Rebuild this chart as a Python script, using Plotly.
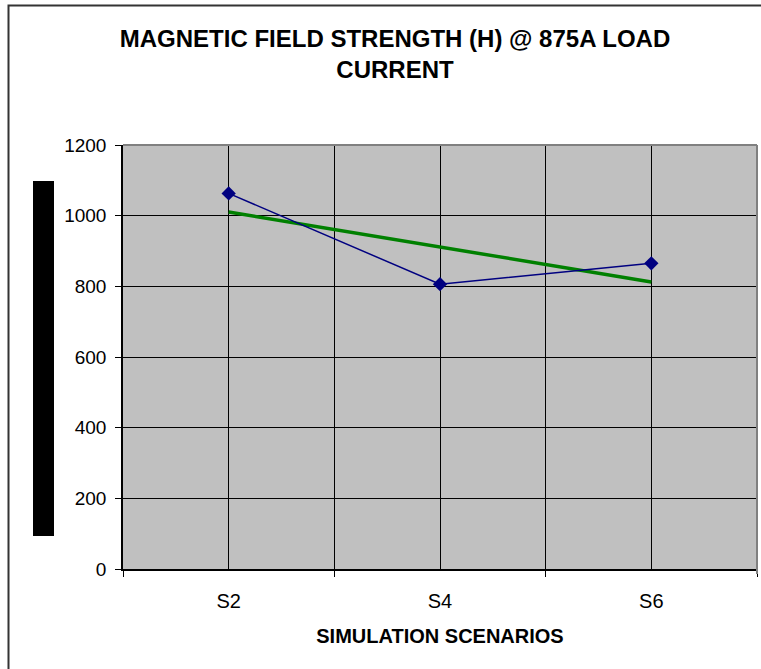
import numpy as np
import plotly.graph_objects as go

# ---- data ----
categories = ["S2", "S4", "S6"]
h_values = [1063, 806, 865]
y_ticks = [0, 200, 400, 600, 800, 1000, 1200]

title_text = "MAGNETIC FIELD STRENGTH (H) @ 875A LOAD<br>CURRENT"
x_title = "SIMULATION SCENARIOS"

# ---- figure geometry (pixels) ----
W, H = 761, 669
L, R, T, B = 123, 4, 145, 100
pw, ph = W - L - R, H - T - B

def px(x):
    return (x - L) / pw

def py(y):
    return (H - B - y) / ph

xs = list(range(len(categories)))
coef = np.polyfit(xs, h_values, 1)
trend = np.polyval(coef, xs)

fig = go.Figure()
fig.add_trace(go.Scatter(
    x=xs, y=trend, mode="lines",
    line=dict(color="#008000", width=3.5),
    hoverinfo="skip", showlegend=False,
))
fig.add_trace(go.Scatter(
    x=xs, y=h_values, mode="lines+markers",
    line=dict(color="#000080", width=1.5),
    marker=dict(symbol="diamond", size=11, color="#000080"),
    showlegend=False,
))

font_family = "Liberation Sans, Arial, sans-serif"

fig.update_layout(
    width=W, height=H,
    margin=dict(l=L, r=R, t=T, b=B, pad=0),
    paper_bgcolor="white",
    plot_bgcolor="#C0C0C0",
    font=dict(family=font_family, color="black", size=18),
    title=dict(
        text=title_text,
        x=395 / W, xanchor="center", xref="container",
        y=1 - 47 / H, yanchor="top", yref="container",
        font=dict(family=font_family, size=24, color="black", weight="bold"),
    ),
    xaxis=dict(
        range=[-0.5, len(categories) - 0.5],
        tickmode="array", tickvals=xs, ticktext=categories,
        ticks="", showgrid=True, gridcolor="black", gridwidth=1,
        showline=True, linecolor="black", linewidth=1.5,
        zeroline=False,
        tickfont=dict(size=20),
        ticklabelstandoff=13,
        minor=dict(
            tickvals=[i - 0.5 for i in range(len(categories) + 1)],
            ticks="outside", ticklen=6, tickcolor="black", tickwidth=1,
            showgrid=True, gridcolor="black", gridwidth=1,
        ),
        title=dict(text=x_title, standoff=18,
                   font=dict(size=20, weight="bold")),
    ),
    yaxis=dict(
        range=[0, 1200], tickmode="array", tickvals=y_ticks,
        ticks="outside", ticklen=6, tickcolor="black",
        showgrid=True, gridcolor="black", gridwidth=1,
        showline=True, linecolor="black", linewidth=1.5,
        zeroline=False,
        tickfont=dict(size=19),
        ticklabelstandoff=5,
    ),
    shapes=[
        # outer chart frame (clipped at right/bottom)
        dict(type="rect", xref="paper", yref="paper",
             x0=px(8.5), x1=px(820), y0=py(720), y1=py(5.5),
             line=dict(color="#333333", width=2), fillcolor="rgba(0,0,0,0)",
             layer="above"),
        # plot area top & right border (gray)
        dict(type="line", xref="paper", yref="paper", x0=0, x1=1, y0=1, y1=1,
             line=dict(color="#808080", width=2)),
        dict(type="line", xref="paper", yref="paper", x0=1, x1=1, y0=py(574), y1=1,
             line=dict(color="#808080", width=2)),
        # black y-axis title box
        dict(type="rect", xref="paper", yref="paper",
             x0=px(33), x1=px(54), y0=py(536), y1=py(181),
             line=dict(width=0), fillcolor="black"),
    ],
)

fig.write_html("out.html")
